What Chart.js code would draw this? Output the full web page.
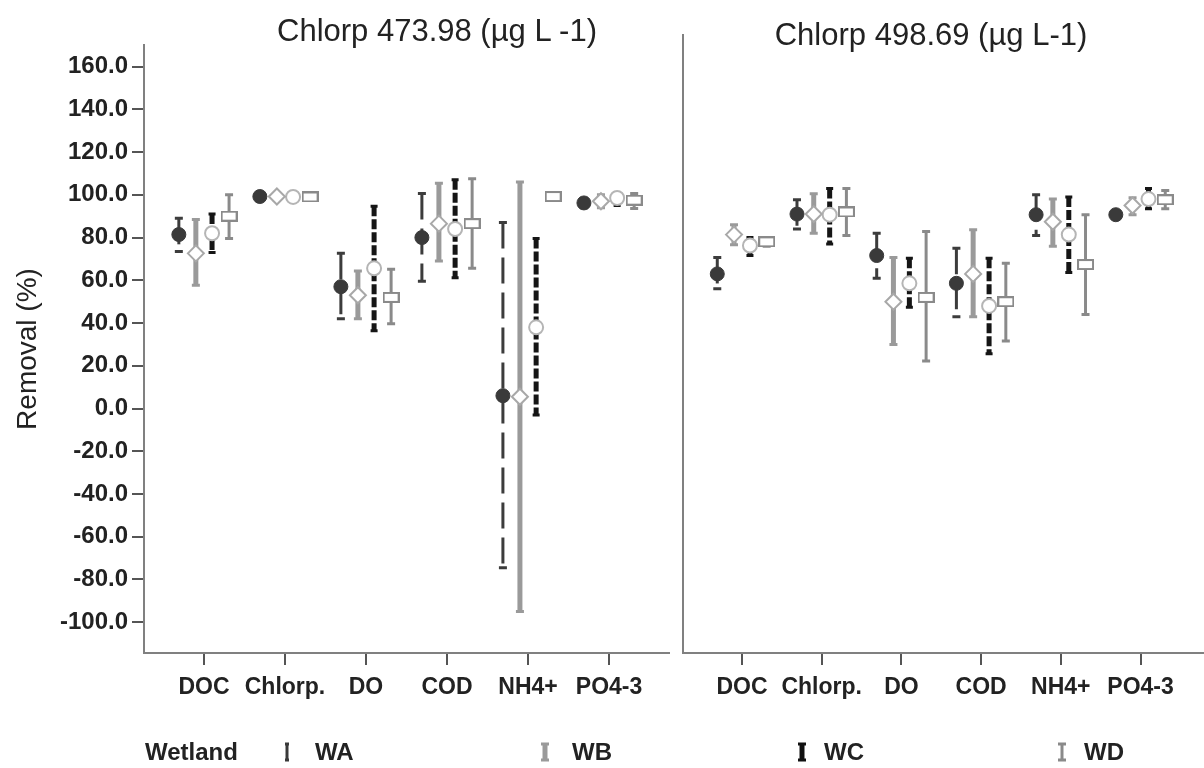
<!DOCTYPE html>
<html>
<head>
<meta charset="utf-8">
<script src="https://cdn.jsdelivr.net/npm/chart.js@4.4.0/dist/chart.umd.min.js"></script>
<style>
  html, body { margin: 0; padding: 0; background: #fff; }
  #wrap { position: relative; width: 1204px; height: 768px; overflow: hidden; font-family: "Liberation Sans", Arial, sans-serif; color: #222; }
  #cl { position: absolute; left: 0; top: 0; }
  #cr { position: absolute; left: 670px; top: 0; }
  .ttl { position: absolute; font-size: 31px; white-space: nowrap; transform: translate(-50%, -50%); color: #222; }
  .leg { position: absolute; top: 752px; transform: translateY(-50%); font-weight: bold; font-size: 24px; color: #222; white-space: nowrap; }
  .ico { position: absolute; top: 742px; }
</style>
</head>
<body>
<div id="wrap">
  <canvas id="cl" width="680" height="768"></canvas>
  <canvas id="cr" width="560" height="768"></canvas>
  <div class="ttl" style="left:437px; top:31px;">Chlorp 473.98 (µg L -1)</div>
  <div class="ttl" style="left:931px; top:35px;">Chlorp 498.69 (µg L-1)</div>
  <div class="leg" style="left:145px;">Wetland</div>
  <svg class="ico" style="left:282px;" width="10" height="20"><path d="M5 2V18" stroke="#3a3a3a" stroke-width="3"/><path d="M3 2H7M3 18H7" stroke="#3a3a3a" stroke-width="3"/></svg>
  <div class="leg" style="left:315px;">WA</div>
  <svg class="ico" style="left:539px;" width="12" height="20"><path d="M6 2V18" stroke="#9a9a9a" stroke-width="5"/><path d="M2 2H10M2 18H10" stroke="#9a9a9a" stroke-width="3"/></svg>
  <div class="leg" style="left:572px;">WB</div>
  <svg class="ico" style="left:796px;" width="12" height="20"><path d="M6 2V18" stroke="#111" stroke-width="5"/><path d="M2 2H10M2 18H10" stroke="#111" stroke-width="3"/></svg>
  <div class="leg" style="left:824px;">WC</div>
  <svg class="ico" style="left:1056px;" width="12" height="20"><path d="M6 2V18" stroke="#8a8a8a" stroke-width="3"/><path d="M2 2H10M2 18H10" stroke="#8a8a8a" stroke-width="3"/></svg>
  <div class="leg" style="left:1084px;">WD</div>
</div>
<script>
// categories and tick labels
const categories = ['DOC', 'Chlorp.', 'DO', 'COD', 'NH4+', 'PO4-3'];
const yTicks = [-100, -80, -60, -40, -20, 0, 20, 40, 60, 80, 100, 120, 140, 160];
const wetlands = ['WA', 'WB', 'WC', 'WD'];

// Chlorp 473.98 - mean, lower, upper
const waMean1 = [81.4, 99.2, 57.0, 80.0, 6.0, 96.2];
const waLow1  = [73.5, 98.0, 42.0, 59.6, -74.5, 94.0];
const waHigh1 = [89.0, 100.2, 72.6, 100.6, 87.0, 98.4];
const wbMean1 = [72.6, 99.2, 53.0, 86.5, 5.5, 97.0];
const wbLow1  = [57.7, 97.5, 42.0, 69.0, -95.0, 94.0];
const wbHigh1 = [88.4, 100.5, 64.3, 105.4, 106.0, 100.0];
const wcMean1 = [82.0, 99.0, 65.6, 84.0, 38.0, 98.5];
const wcLow1  = [73.0, 98.2, 36.4, 61.2, -3.0, 95.0];
const wcHigh1 = [91.0, 99.8, 94.6, 107.0, 79.5, 101.0];
const wdMean1 = [90.0, 99.0, 52.0, 86.5, 99.2, 97.5];
const wdLow1  = [79.6, 98.2, 39.7, 65.6, 98.0, 93.6];
const wdHigh1 = [100.0, 99.8, 65.2, 107.5, 100.5, 100.6];

// Chlorp 498.69 - mean, lower, upper
const waMean2 = [63.0, 91.0, 71.6, 58.6, 90.7, 90.7];
const waLow2  = [56.0, 84.0, 61.0, 43.0, 81.0, 89.0];
const waHigh2 = [70.7, 97.7, 82.0, 75.0, 100.0, 92.0];
const wbMean2 = [81.4, 91.0, 50.0, 63.0, 87.4, 95.0];
const wbLow2  = [76.7, 82.0, 30.0, 43.0, 76.0, 90.7];
const wbHigh2 = [86.0, 100.5, 70.7, 83.7, 98.0, 98.6];
const wcMean2 = [76.3, 90.7, 58.6, 48.0, 81.4, 98.0];
const wcLow2  = [71.6, 77.0, 47.4, 25.6, 63.7, 93.5];
const wcHigh2 = [80.0, 103.0, 70.3, 70.3, 99.0, 103.0];
const wdMean2 = [78.0, 92.0, 52.0, 50.0, 67.4, 97.7];
const wdLow2  = [76.0, 81.0, 22.3, 31.6, 44.0, 93.5];
const wdHigh2 = [79.5, 103.0, 82.8, 68.0, 90.7, 102.0];

const sans = '"Liberation Sans", Arial, sans-serif';

function rectMarker() {
    const c = document.createElement('canvas');
    c.width = 17; c.height = 11;
    const g = c.getContext('2d');
    g.fillStyle = '#fff';
    g.fillRect(1, 1, 15, 9);
    g.strokeStyle = '#8a8a8a';
    g.lineWidth = 2;
    g.strokeRect(1, 1, 15, 9);
    return c;
}

// series look: marker + error bar style
const styles = [
    { off: -0.31, pointStyle: 'circle', radius: 7, bg: '#3a3a3a', border: '#3a3a3a', bw: 1,
      errColor: '#3c3c3c', errWidth: 3, errDash: [26, 9], cap: 8 },
    { off: -0.10, pointStyle: 'rectRot', radius: 8, bg: '#fff', border: '#a8a8a8', bw: 2,
      errColor: '#9a9a9a', errWidth: 5, errDash: [], cap: 8 },
    { off: 0.10, pointStyle: 'circle', radius: 7, bg: '#fff', border: '#b5b5b5', bw: 2,
      errColor: '#151515', errWidth: 5, errDash: [10, 3], cap: 7 },
    { off: 0.31, pointStyle: rectMarker(), radius: 8, bg: '#fff', border: '#8a8a8a', bw: 2,
      errColor: '#8a8a8a', errWidth: 3, errDash: [], cap: 8 }
];

const errorBars = {
    id: 'errorBars',
    beforeDatasetsDraw(chart) {
        const ctx = chart.ctx;
        const yScale = chart.scales.y;
        chart.data.datasets.forEach(function (ds, di) {
            const meta = chart.getDatasetMeta(di);
            ctx.save();
            ctx.strokeStyle = ds.errColor;
            meta.data.forEach(function (pt, i) {
                const top = yScale.getPixelForValue(ds.high[i]);
                const bot = yScale.getPixelForValue(ds.low[i]);
                ctx.lineWidth = ds.errWidth;
                ctx.setLineDash(ds.errDash);
                ctx.beginPath();
                ctx.moveTo(pt.x, top);
                ctx.lineTo(pt.x, bot);
                ctx.stroke();
                ctx.setLineDash([]);
                ctx.lineWidth = 3;
                ctx.beginPath();
                ctx.moveTo(pt.x - ds.cap / 2, top);
                ctx.lineTo(pt.x + ds.cap / 2, top);
                ctx.moveTo(pt.x - ds.cap / 2, bot);
                ctx.lineTo(pt.x + ds.cap / 2, bot);
                ctx.stroke();
            });
            ctx.restore();
        });
    }
};

function makeDatasets(means, lows, highs) {
    return wetlands.map(function (name, s) {
        const st = styles[s];
        return {
            label: name,
            data: means[s].map(function (v, i) { return { x: i + st.off, y: v }; }),
            low: lows[s],
            high: highs[s],
            pointStyle: st.pointStyle,
            pointRadius: st.radius,
            pointBackgroundColor: st.bg,
            pointBorderColor: st.border,
            pointBorderWidth: st.bw,
            showLine: false,
            errColor: st.errColor,
            errWidth: st.errWidth,
            errDash: st.errDash,
            cap: st.cap
        };
    });
}

function makeChart(id, datasets, isLeft) {
    const yMax = isLeft ? 170.1 : 174.8;
    return new Chart(document.getElementById(id), {
        type: 'scatter',
        data: { datasets: datasets },
        options: {
            responsive: false,
            animation: false,
            devicePixelRatio: 1,
            layout: { padding: { top: isLeft ? 45 : 35, right: isLeft ? 11 : 0, bottom: 0, left: 0 } },
            plugins: { legend: { display: false }, tooltip: { enabled: false } },
            scales: {
                x: {
                    type: 'linear',
                    min: -0.74,
                    max: isLeft ? 5.74 : 5.997,
                    afterBuildTicks: function (s) { s.ticks = categories.map(function (c, i) { return { value: i }; }); },
                    afterFit: function (s) { s.height = 115; },
                    ticks: {
                        autoSkip: false, maxRotation: 0,
                        callback: function (v) { return categories[v]; },
                        font: { family: sans, size: 23, weight: 'bold' },
                        color: '#222', padding: 9
                    },
                    grid: { drawOnChartArea: false, tickLength: 12, color: '#555', lineWidth: 2 },
                    border: { display: true, color: '#808080', width: 2 }
                },
                y: {
                    min: -114.4,
                    max: yMax,
                    afterBuildTicks: function (s) { s.ticks = yTicks.map(function (v) { return { value: v }; }); },
                    afterFit: function (s) { s.width = isLeft ? 144 : 13; },
                    ticks: {
                        display: isLeft,
                        callback: function (v) { return v.toFixed(1); },
                        font: { family: sans, size: 24, weight: 'bold' },
                        color: '#222', padding: 4
                    },
                    grid: { display: isLeft, drawOnChartArea: false, tickLength: 12, color: '#555', lineWidth: 2 },
                    border: { display: true, color: '#808080', width: 2 },
                    title: {
                        display: isLeft, text: 'Removal (%)',
                        font: { family: sans, size: 28 }, color: '#222',
                        padding: { top: 11, bottom: 0 }
                    }
                }
            }
        },
        plugins: [errorBars]
    });
}

makeChart('cl', makeDatasets(
    [waMean1, wbMean1, wcMean1, wdMean1],
    [waLow1, wbLow1, wcLow1, wdLow1],
    [waHigh1, wbHigh1, wcHigh1, wdHigh1]), true);

makeChart('cr', makeDatasets(
    [waMean2, wbMean2, wcMean2, wdMean2],
    [waLow2, wbLow2, wcLow2, wdLow2],
    [waHigh2, wbHigh2, wcHigh2, wdHigh2]), false);
</script>
</body>
</html>
